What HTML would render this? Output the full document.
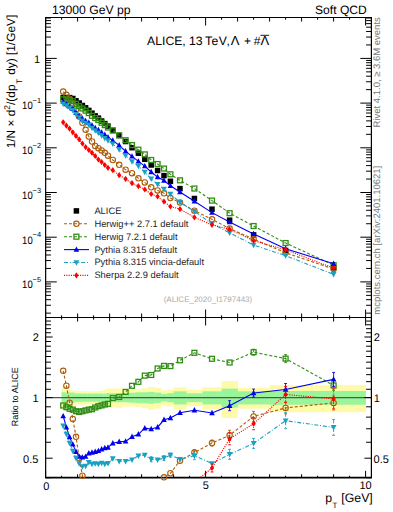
<!DOCTYPE html><html><head><meta charset="utf-8"><style>html,body{margin:0;padding:0;background:#fff;width:393px;height:512px;overflow:hidden}svg{position:absolute;left:0;top:0}text{font-family:"Liberation Sans",sans-serif;text-rendering:geometricPrecision}</style></head><body>
<svg width="393" height="512" viewBox="0 0 393 512">
<defs><clipPath id="cm"><rect x="45.65" y="17.5" width="325.75" height="300.0"/></clipPath>
<clipPath id="cr"><rect x="45.65" y="317.5" width="325.75" height="160.14999999999998"/></clipPath></defs>
<g clip-path="url(#cr)">
<rect x="61.6" y="386.9" width="3.5" height="22.89" fill="#fffaa8"/>
<rect x="64.8" y="389.5" width="3.5" height="17.03" fill="#fffaa8"/>
<rect x="68" y="389.5" width="3.5" height="17.03" fill="#fffaa8"/>
<rect x="71.2" y="390.1" width="3.5" height="15.7" fill="#fffaa8"/>
<rect x="74.4" y="391" width="3.5" height="13.74" fill="#fffaa8"/>
<rect x="77.6" y="391" width="3.5" height="13.74" fill="#fffaa8"/>
<rect x="80.8" y="391" width="3.5" height="13.74" fill="#fffaa8"/>
<rect x="84" y="391.2" width="3.5" height="13.31" fill="#fffaa8"/>
<rect x="87.2" y="391.2" width="3.5" height="13.31" fill="#fffaa8"/>
<rect x="90.4" y="391.2" width="3.5" height="13.31" fill="#fffaa8"/>
<rect x="93.6" y="391.1" width="3.5" height="13.52" fill="#fffaa8"/>
<rect x="96.8" y="391" width="3.5" height="13.74" fill="#fffaa8"/>
<rect x="100" y="390.6" width="3.5" height="14.61" fill="#fffaa8"/>
<rect x="103.2" y="389.6" width="3.5" height="16.81" fill="#fffaa8"/>
<rect x="106.4" y="388.4" width="3.5" height="19.48" fill="#fffaa8"/>
<rect x="109.6" y="388.7" width="6.7" height="18.81" fill="#fffaa8"/>
<rect x="116" y="388.4" width="6.7" height="19.48" fill="#fffaa8"/>
<rect x="122.4" y="389.6" width="6.7" height="16.81" fill="#fffaa8"/>
<rect x="128.8" y="389.6" width="6.7" height="16.81" fill="#fffaa8"/>
<rect x="135.2" y="389.1" width="6.7" height="17.92" fill="#fffaa8"/>
<rect x="141.6" y="388.3" width="6.7" height="19.71" fill="#fffaa8"/>
<rect x="148" y="386.9" width="6.7" height="22.89" fill="#fffaa8"/>
<rect x="154.4" y="387.8" width="6.7" height="20.84" fill="#fffaa8"/>
<rect x="160.8" y="390.5" width="6.7" height="14.83" fill="#fffaa8"/>
<rect x="167.2" y="389.6" width="6.7" height="16.81" fill="#fffaa8"/>
<rect x="173.6" y="387.2" width="13.1" height="22.21" fill="#fffaa8"/>
<rect x="186.4" y="389.8" width="16.3" height="16.36" fill="#fffaa8"/>
<rect x="202.4" y="387.2" width="19.5" height="22.21" fill="#fffaa8"/>
<rect x="221.6" y="381.1" width="16.3" height="36.86" fill="#fffaa8"/>
<rect x="237.6" y="387.8" width="32.3" height="20.84" fill="#fffaa8"/>
<rect x="269.6" y="385.1" width="32.3" height="27.09" fill="#fffaa8"/>
<rect x="301.6" y="385.1" width="64.3" height="27.09" fill="#fffaa8"/>
<rect x="61.6" y="392.2" width="3.5" height="11.16" fill="#9af59a"/>
<rect x="64.8" y="392.6" width="3.5" height="10.3" fill="#9af59a"/>
<rect x="68" y="392.6" width="3.5" height="10.3" fill="#9af59a"/>
<rect x="71.2" y="392.6" width="3.5" height="10.3" fill="#9af59a"/>
<rect x="74.4" y="393.6" width="3.5" height="8.19" fill="#9af59a"/>
<rect x="77.6" y="393.6" width="3.5" height="8.19" fill="#9af59a"/>
<rect x="80.8" y="393.6" width="3.5" height="8.19" fill="#9af59a"/>
<rect x="84" y="393.6" width="3.5" height="8.19" fill="#9af59a"/>
<rect x="87.2" y="393.6" width="3.5" height="8.19" fill="#9af59a"/>
<rect x="90.4" y="393.6" width="3.5" height="8.19" fill="#9af59a"/>
<rect x="93.6" y="393.6" width="3.5" height="8.19" fill="#9af59a"/>
<rect x="96.8" y="393.6" width="3.5" height="8.19" fill="#9af59a"/>
<rect x="100" y="393.6" width="3.5" height="8.19" fill="#9af59a"/>
<rect x="103.2" y="393.6" width="3.5" height="8.19" fill="#9af59a"/>
<rect x="106.4" y="393.1" width="3.5" height="9.24" fill="#9af59a"/>
<rect x="109.6" y="393.2" width="6.7" height="9.03" fill="#9af59a"/>
<rect x="116" y="393.2" width="6.7" height="9.03" fill="#9af59a"/>
<rect x="122.4" y="393.2" width="6.7" height="9.03" fill="#9af59a"/>
<rect x="128.8" y="392.8" width="6.7" height="9.88" fill="#9af59a"/>
<rect x="135.2" y="392.3" width="6.7" height="10.94" fill="#9af59a"/>
<rect x="141.6" y="392.3" width="6.7" height="10.94" fill="#9af59a"/>
<rect x="148" y="391.9" width="6.7" height="11.8" fill="#9af59a"/>
<rect x="154.4" y="392.6" width="6.7" height="10.3" fill="#9af59a"/>
<rect x="160.8" y="394" width="6.7" height="7.35" fill="#9af59a"/>
<rect x="167.2" y="393.2" width="6.7" height="9.03" fill="#9af59a"/>
<rect x="173.6" y="391.3" width="13.1" height="13.09" fill="#9af59a"/>
<rect x="186.4" y="393.3" width="16.3" height="8.82" fill="#9af59a"/>
<rect x="202.4" y="391.3" width="19.5" height="13.09" fill="#9af59a"/>
<rect x="221.6" y="388.6" width="16.3" height="19.03" fill="#9af59a"/>
<rect x="237.6" y="391.3" width="32.3" height="13.09" fill="#9af59a"/>
<rect x="269.6" y="391" width="32.3" height="13.74" fill="#9af59a"/>
<rect x="301.6" y="391" width="64.3" height="13.74" fill="#9af59a"/>
<line x1="45.65" y1="397.6" x2="371.4" y2="397.6" stroke="#505850" stroke-width="1.1"/>
</g>
<g stroke="#000" fill="none" stroke-width="1.2">
<path d="M45.65,477.65V17.5H371.4V477.65"/>
<line x1="45.05" y1="477.65" x2="372.0" y2="477.65" stroke-width="1.7"/>
<line x1="45.65" y1="317.5" x2="371.4" y2="317.5"/>
</g>
<path d="M45.6,17.5v8M45.6,317.5v-8M45.6,317.5v8M45.6,477.65v-6.8M61.6,17.5v2.2M61.6,317.5v-2.2M61.6,317.5v2.2M61.6,477.65v-1.87M77.6,17.5v4M77.6,317.5v-4M77.6,317.5v4M77.6,477.65v-3.4M93.6,17.5v2.2M93.6,317.5v-2.2M93.6,317.5v2.2M93.6,477.65v-1.87M109.6,17.5v4M109.6,317.5v-4M109.6,317.5v4M109.6,477.65v-3.4M125.6,17.5v2.2M125.6,317.5v-2.2M125.6,317.5v2.2M125.6,477.65v-1.87M141.6,17.5v4M141.6,317.5v-4M141.6,317.5v4M141.6,477.65v-3.4M157.6,17.5v2.2M157.6,317.5v-2.2M157.6,317.5v2.2M157.6,477.65v-1.87M173.6,17.5v4M173.6,317.5v-4M173.6,317.5v4M173.6,477.65v-3.4M189.6,17.5v2.2M189.6,317.5v-2.2M189.6,317.5v2.2M189.6,477.65v-1.87M205.6,17.5v8M205.6,317.5v-8M205.6,317.5v8M205.6,477.65v-6.8M221.6,17.5v2.2M221.6,317.5v-2.2M221.6,317.5v2.2M221.6,477.65v-1.87M237.6,17.5v4M237.6,317.5v-4M237.6,317.5v4M237.6,477.65v-3.4M253.6,17.5v2.2M253.6,317.5v-2.2M253.6,317.5v2.2M253.6,477.65v-1.87M269.6,17.5v4M269.6,317.5v-4M269.6,317.5v4M269.6,477.65v-3.4M285.6,17.5v2.2M285.6,317.5v-2.2M285.6,317.5v2.2M285.6,477.65v-1.87M301.6,17.5v4M301.6,317.5v-4M301.6,317.5v4M301.6,477.65v-3.4M317.6,17.5v2.2M317.6,317.5v-2.2M317.6,317.5v2.2M317.6,477.65v-1.87M333.6,17.5v4M333.6,317.5v-4M333.6,317.5v4M333.6,477.65v-3.4M349.6,17.5v2.2M349.6,317.5v-2.2M349.6,317.5v2.2M349.6,477.65v-1.87M365.6,17.5v8M365.6,317.5v-8M365.6,317.5v8M365.6,477.65v-6.8M45.65,58.4h11.1M371.4,58.4h-11.1M45.65,44.94h5.3M371.4,44.94h-5.3M45.65,37.07h5.3M371.4,37.07h-5.3M45.65,31.49h5.3M371.4,31.49h-5.3M45.65,27.16h5.3M371.4,27.16h-5.3M45.65,23.62h5.3M371.4,23.62h-5.3M45.65,20.62h5.3M371.4,20.62h-5.3M45.65,18.03h5.3M371.4,18.03h-5.3M45.65,103.1h11.1M371.4,103.1h-11.1M45.65,89.64h5.3M371.4,89.64h-5.3M45.65,81.77h5.3M371.4,81.77h-5.3M45.65,76.19h5.3M371.4,76.19h-5.3M45.65,71.86h5.3M371.4,71.86h-5.3M45.65,68.32h5.3M371.4,68.32h-5.3M45.65,65.32h5.3M371.4,65.32h-5.3M45.65,62.73h5.3M371.4,62.73h-5.3M45.65,60.45h5.3M371.4,60.45h-5.3M45.65,147.8h11.1M371.4,147.8h-11.1M45.65,134.34h5.3M371.4,134.34h-5.3M45.65,126.47h5.3M371.4,126.47h-5.3M45.65,120.89h5.3M371.4,120.89h-5.3M45.65,116.56h5.3M371.4,116.56h-5.3M45.65,113.02h5.3M371.4,113.02h-5.3M45.65,110.02h5.3M371.4,110.02h-5.3M45.65,107.43h5.3M371.4,107.43h-5.3M45.65,105.15h5.3M371.4,105.15h-5.3M45.65,192.5h11.1M371.4,192.5h-11.1M45.65,179.04h5.3M371.4,179.04h-5.3M45.65,171.17h5.3M371.4,171.17h-5.3M45.65,165.59h5.3M371.4,165.59h-5.3M45.65,161.26h5.3M371.4,161.26h-5.3M45.65,157.72h5.3M371.4,157.72h-5.3M45.65,154.72h5.3M371.4,154.72h-5.3M45.65,152.13h5.3M371.4,152.13h-5.3M45.65,149.85h5.3M371.4,149.85h-5.3M45.65,237.2h11.1M371.4,237.2h-11.1M45.65,223.74h5.3M371.4,223.74h-5.3M45.65,215.87h5.3M371.4,215.87h-5.3M45.65,210.29h5.3M371.4,210.29h-5.3M45.65,205.96h5.3M371.4,205.96h-5.3M45.65,202.42h5.3M371.4,202.42h-5.3M45.65,199.42h5.3M371.4,199.42h-5.3M45.65,196.83h5.3M371.4,196.83h-5.3M45.65,194.55h5.3M371.4,194.55h-5.3M45.65,281.9h11.1M371.4,281.9h-11.1M45.65,268.44h5.3M371.4,268.44h-5.3M45.65,260.57h5.3M371.4,260.57h-5.3M45.65,254.99h5.3M371.4,254.99h-5.3M45.65,250.66h5.3M371.4,250.66h-5.3M45.65,247.12h5.3M371.4,247.12h-5.3M45.65,244.12h5.3M371.4,244.12h-5.3M45.65,241.53h5.3M371.4,241.53h-5.3M45.65,239.25h5.3M371.4,239.25h-5.3M45.65,313.14h5.3M371.4,313.14h-5.3M45.65,305.27h5.3M371.4,305.27h-5.3M45.65,299.69h5.3M371.4,299.69h-5.3M45.65,295.36h5.3M371.4,295.36h-5.3M45.65,291.82h5.3M371.4,291.82h-5.3M45.65,288.82h5.3M371.4,288.82h-5.3M45.65,286.23h5.3M371.4,286.23h-5.3M45.65,283.95h5.3M371.4,283.95h-5.3M45.65,477.71h5.3M371.4,477.71h-5.3M45.65,458.2h7M371.4,458.2h-7M45.65,442.26h5.3M371.4,442.26h-5.3M45.65,428.78h5.3M371.4,428.78h-5.3M45.65,417.11h5.3M371.4,417.11h-5.3M45.65,406.81h5.3M371.4,406.81h-5.3M45.65,397.6h7M371.4,397.6h-7M45.65,389.27h5.3M371.4,389.27h-5.3M45.65,381.66h5.3M371.4,381.66h-5.3M45.65,374.66h5.3M371.4,374.66h-5.3M45.65,368.18h5.3M371.4,368.18h-5.3M45.65,362.15h5.3M371.4,362.15h-5.3M45.65,356.51h5.3M371.4,356.51h-5.3M45.65,351.21h5.3M371.4,351.21h-5.3M45.65,346.21h5.3M371.4,346.21h-5.3M45.65,341.49h5.3M371.4,341.49h-5.3M45.65,337h7M371.4,337h-7M45.65,332.74h5.3M371.4,332.74h-5.3M45.65,328.67h5.3M371.4,328.67h-5.3M45.65,324.78h5.3M371.4,324.78h-5.3M45.65,321.06h5.3M371.4,321.06h-5.3M45.65,317.49h5.3M371.4,317.49h-5.3" stroke="#000" stroke-width="1" fill="none"/>
<g clip-path="url(#cm)">
<rect x="60.45" y="94.75" width="5.5" height="5.5" fill="#000"/>
<rect x="63.65" y="94.75" width="5.5" height="5.5" fill="#000"/>
<rect x="66.85" y="94.85" width="5.5" height="5.5" fill="#000"/>
<rect x="70.05" y="95.75" width="5.5" height="5.5" fill="#000"/>
<rect x="73.25" y="98.05" width="5.5" height="5.5" fill="#000"/>
<rect x="76.45" y="100.25" width="5.5" height="5.5" fill="#000"/>
<rect x="79.65" y="102.75" width="5.5" height="5.5" fill="#000"/>
<rect x="82.85" y="105.05" width="5.5" height="5.5" fill="#000"/>
<rect x="86.05" y="107.65" width="5.5" height="5.5" fill="#000"/>
<rect x="89.25" y="110.45" width="5.5" height="5.5" fill="#000"/>
<rect x="92.45" y="113.15" width="5.5" height="5.5" fill="#000"/>
<rect x="95.65" y="115.35" width="5.5" height="5.5" fill="#000"/>
<rect x="98.85" y="118.25" width="5.5" height="5.5" fill="#000"/>
<rect x="102.05" y="120.85" width="5.5" height="5.5" fill="#000"/>
<rect x="105.25" y="123.35" width="5.5" height="5.5" fill="#000"/>
<rect x="110.05" y="127.65" width="5.5" height="5.5" fill="#000"/>
<rect x="116.45" y="132.75" width="5.5" height="5.5" fill="#000"/>
<rect x="122.85" y="138.75" width="5.5" height="5.5" fill="#000"/>
<rect x="129.25" y="144.95" width="5.5" height="5.5" fill="#000"/>
<rect x="135.65" y="150.45" width="5.5" height="5.5" fill="#000"/>
<rect x="142.05" y="156.55" width="5.5" height="5.5" fill="#000"/>
<rect x="148.45" y="162.25" width="5.5" height="5.5" fill="#000"/>
<rect x="154.85" y="167.75" width="5.5" height="5.5" fill="#000"/>
<rect x="161.25" y="172.85" width="5.5" height="5.5" fill="#000"/>
<rect x="167.65" y="178.55" width="5.5" height="5.5" fill="#000"/>
<rect x="177.25" y="185.85" width="5.5" height="5.5" fill="#000"/>
<rect x="191.65" y="195.75" width="5.5" height="5.5" fill="#000"/>
<rect x="209.25" y="206.45" width="5.5" height="5.5" fill="#000"/>
<rect x="226.85" y="217.45" width="5.5" height="5.5" fill="#000"/>
<rect x="250.85" y="232.15" width="5.5" height="5.5" fill="#000"/>
<rect x="282.85" y="247.75" width="5.5" height="5.5" fill="#000"/>
<rect x="330.85" y="265.05" width="5.5" height="5.5" fill="#000"/>
<polyline points="63.2,91.55 66.4,94.86 69.6,98.73 72.8,103.25 76,109.5 79.2,116.46 82.4,122.84 85.6,129.8 88.8,136.6 92,141.5 95.2,146 98.4,148.2 101.6,150.4 104.8,152.8 108,155.7 112.8,160 119.2,164.8 125.6,169.7 132,173.2 138.4,178.3 144.8,182.4 151.2,187.3 157.6,190.4 164,193.3 170.4,198.1 180,202.6 194.4,210.7 212,219.3 229.6,228.57 253.6,239.07 285.6,252.79 333.6,268.98" fill="none" stroke="#ac5c0a" stroke-width="1.1" stroke-dasharray="3,2"/>
<circle cx="63.2" cy="91.55" r="2.7" fill="none" stroke="#ac5c0a" stroke-width="1.1"/>
<circle cx="66.4" cy="94.86" r="2.7" fill="none" stroke="#ac5c0a" stroke-width="1.1"/>
<circle cx="69.6" cy="98.73" r="2.7" fill="none" stroke="#ac5c0a" stroke-width="1.1"/>
<circle cx="72.8" cy="103.25" r="2.7" fill="none" stroke="#ac5c0a" stroke-width="1.1"/>
<circle cx="76" cy="109.5" r="2.7" fill="none" stroke="#ac5c0a" stroke-width="1.1"/>
<circle cx="79.2" cy="116.46" r="2.7" fill="none" stroke="#ac5c0a" stroke-width="1.1"/>
<circle cx="82.4" cy="122.84" r="2.7" fill="none" stroke="#ac5c0a" stroke-width="1.1"/>
<circle cx="85.6" cy="129.8" r="2.7" fill="none" stroke="#ac5c0a" stroke-width="1.1"/>
<circle cx="88.8" cy="136.6" r="2.7" fill="none" stroke="#ac5c0a" stroke-width="1.1"/>
<circle cx="92" cy="141.5" r="2.7" fill="none" stroke="#ac5c0a" stroke-width="1.1"/>
<circle cx="95.2" cy="146" r="2.7" fill="none" stroke="#ac5c0a" stroke-width="1.1"/>
<circle cx="98.4" cy="148.2" r="2.7" fill="none" stroke="#ac5c0a" stroke-width="1.1"/>
<circle cx="101.6" cy="150.4" r="2.7" fill="none" stroke="#ac5c0a" stroke-width="1.1"/>
<circle cx="104.8" cy="152.8" r="2.7" fill="none" stroke="#ac5c0a" stroke-width="1.1"/>
<circle cx="108" cy="155.7" r="2.7" fill="none" stroke="#ac5c0a" stroke-width="1.1"/>
<circle cx="112.8" cy="160" r="2.7" fill="none" stroke="#ac5c0a" stroke-width="1.1"/>
<circle cx="119.2" cy="164.8" r="2.7" fill="none" stroke="#ac5c0a" stroke-width="1.1"/>
<circle cx="125.6" cy="169.7" r="2.7" fill="none" stroke="#ac5c0a" stroke-width="1.1"/>
<circle cx="132" cy="173.2" r="2.7" fill="none" stroke="#ac5c0a" stroke-width="1.1"/>
<circle cx="138.4" cy="178.3" r="2.7" fill="none" stroke="#ac5c0a" stroke-width="1.1"/>
<circle cx="144.8" cy="182.4" r="2.7" fill="none" stroke="#ac5c0a" stroke-width="1.1"/>
<circle cx="151.2" cy="187.3" r="2.7" fill="none" stroke="#ac5c0a" stroke-width="1.1"/>
<circle cx="157.6" cy="190.4" r="2.7" fill="none" stroke="#ac5c0a" stroke-width="1.1"/>
<circle cx="164" cy="193.3" r="2.7" fill="none" stroke="#ac5c0a" stroke-width="1.1"/>
<circle cx="170.4" cy="198.1" r="2.7" fill="none" stroke="#ac5c0a" stroke-width="1.1"/>
<circle cx="180" cy="202.6" r="2.7" fill="none" stroke="#ac5c0a" stroke-width="1.1"/>
<circle cx="194.4" cy="210.7" r="2.7" fill="none" stroke="#ac5c0a" stroke-width="1.1"/>
<circle cx="212" cy="219.3" r="2.7" fill="none" stroke="#ac5c0a" stroke-width="1.1"/>
<circle cx="229.6" cy="228.57" r="2.7" fill="none" stroke="#ac5c0a" stroke-width="1.1"/>
<circle cx="253.6" cy="239.07" r="2.7" fill="none" stroke="#ac5c0a" stroke-width="1.1"/>
<circle cx="285.6" cy="252.79" r="2.7" fill="none" stroke="#ac5c0a" stroke-width="1.1"/>
<circle cx="333.6" cy="268.98" r="2.7" fill="none" stroke="#ac5c0a" stroke-width="1.1"/>
<polyline points="63.2,99.25 66.4,99.63 69.6,100.09 72.8,101.16 76,103.82 79.2,106.2 82.4,108.52 85.6,110.64 88.8,113.06 92,115.78 95.2,118.1 98.4,120.01 101.6,122.73 104.8,125.13 108,127.48 112.8,130.49 119.2,135.37 125.6,140.23 132,145.08 138.4,149.69 144.8,154.41 151.2,159.98 157.6,164.04 164,168.56 170.4,174.31 180,180.32 194.4,188.55 212,200.58 229.6,213.21 253.6,226.02 285.6,243.04 333.6,265.09" fill="none" stroke="#2f8e12" stroke-width="1.1" stroke-dasharray="3,2"/>
<rect x="60.75" y="96.8" width="4.9" height="4.9" fill="none" stroke="#2f8e12" stroke-width="1.3"/>
<rect x="63.95" y="97.18" width="4.9" height="4.9" fill="none" stroke="#2f8e12" stroke-width="1.3"/>
<rect x="67.15" y="97.64" width="4.9" height="4.9" fill="none" stroke="#2f8e12" stroke-width="1.3"/>
<rect x="70.35" y="98.71" width="4.9" height="4.9" fill="none" stroke="#2f8e12" stroke-width="1.3"/>
<rect x="73.55" y="101.37" width="4.9" height="4.9" fill="none" stroke="#2f8e12" stroke-width="1.3"/>
<rect x="76.75" y="103.75" width="4.9" height="4.9" fill="none" stroke="#2f8e12" stroke-width="1.3"/>
<rect x="79.95" y="106.07" width="4.9" height="4.9" fill="none" stroke="#2f8e12" stroke-width="1.3"/>
<rect x="83.15" y="108.19" width="4.9" height="4.9" fill="none" stroke="#2f8e12" stroke-width="1.3"/>
<rect x="86.35" y="110.61" width="4.9" height="4.9" fill="none" stroke="#2f8e12" stroke-width="1.3"/>
<rect x="89.55" y="113.33" width="4.9" height="4.9" fill="none" stroke="#2f8e12" stroke-width="1.3"/>
<rect x="92.75" y="115.65" width="4.9" height="4.9" fill="none" stroke="#2f8e12" stroke-width="1.3"/>
<rect x="95.95" y="117.56" width="4.9" height="4.9" fill="none" stroke="#2f8e12" stroke-width="1.3"/>
<rect x="99.15" y="120.28" width="4.9" height="4.9" fill="none" stroke="#2f8e12" stroke-width="1.3"/>
<rect x="102.35" y="122.68" width="4.9" height="4.9" fill="none" stroke="#2f8e12" stroke-width="1.3"/>
<rect x="105.55" y="125.03" width="4.9" height="4.9" fill="none" stroke="#2f8e12" stroke-width="1.3"/>
<rect x="110.35" y="128.04" width="4.9" height="4.9" fill="none" stroke="#2f8e12" stroke-width="1.3"/>
<rect x="116.75" y="132.92" width="4.9" height="4.9" fill="none" stroke="#2f8e12" stroke-width="1.3"/>
<rect x="123.15" y="137.78" width="4.9" height="4.9" fill="none" stroke="#2f8e12" stroke-width="1.3"/>
<rect x="129.55" y="142.63" width="4.9" height="4.9" fill="none" stroke="#2f8e12" stroke-width="1.3"/>
<rect x="135.95" y="147.24" width="4.9" height="4.9" fill="none" stroke="#2f8e12" stroke-width="1.3"/>
<rect x="142.35" y="151.96" width="4.9" height="4.9" fill="none" stroke="#2f8e12" stroke-width="1.3"/>
<rect x="148.75" y="157.53" width="4.9" height="4.9" fill="none" stroke="#2f8e12" stroke-width="1.3"/>
<rect x="155.15" y="161.59" width="4.9" height="4.9" fill="none" stroke="#2f8e12" stroke-width="1.3"/>
<rect x="161.55" y="166.11" width="4.9" height="4.9" fill="none" stroke="#2f8e12" stroke-width="1.3"/>
<rect x="167.95" y="171.86" width="4.9" height="4.9" fill="none" stroke="#2f8e12" stroke-width="1.3"/>
<rect x="177.55" y="177.87" width="4.9" height="4.9" fill="none" stroke="#2f8e12" stroke-width="1.3"/>
<rect x="191.95" y="186.1" width="4.9" height="4.9" fill="none" stroke="#2f8e12" stroke-width="1.3"/>
<rect x="209.55" y="198.13" width="4.9" height="4.9" fill="none" stroke="#2f8e12" stroke-width="1.3"/>
<rect x="227.15" y="210.76" width="4.9" height="4.9" fill="none" stroke="#2f8e12" stroke-width="1.3"/>
<rect x="251.15" y="223.57" width="4.9" height="4.9" fill="none" stroke="#2f8e12" stroke-width="1.3"/>
<rect x="283.15" y="240.59" width="4.9" height="4.9" fill="none" stroke="#2f8e12" stroke-width="1.3"/>
<rect x="331.15" y="262.64" width="4.9" height="4.9" fill="none" stroke="#2f8e12" stroke-width="1.3"/>
<polyline points="63.2,101.61 66.4,104.12 69.6,106.37 72.8,108.89 76,112.81 79.2,116.1 82.4,118.78 85.6,120.9 88.8,122.77 92,125.39 95.2,127.91 98.4,129.94 101.6,132.48 104.8,134.79 108,137.18 112.8,140.53 119.2,145.31 125.6,151.23 132,156.4 138.4,161.35 144.8,166.09 151.2,171.97 157.6,177.07 164,180.53 170.4,185.83 180,191.98 194.4,201.32 212,212.62 229.6,222 253.6,233.9 285.6,248.7 333.6,263.76" fill="none" stroke="#0000f0" stroke-width="1.1"/>
<path d="M63.2,98.41L66,103.81L60.4,103.81Z" fill="#0000f0"/>
<path d="M66.4,100.92L69.2,106.32L63.6,106.32Z" fill="#0000f0"/>
<path d="M69.6,103.17L72.4,108.57L66.8,108.57Z" fill="#0000f0"/>
<path d="M72.8,105.69L75.6,111.09L70,111.09Z" fill="#0000f0"/>
<path d="M76,109.61L78.8,115.01L73.2,115.01Z" fill="#0000f0"/>
<path d="M79.2,112.9L82,118.3L76.4,118.3Z" fill="#0000f0"/>
<path d="M82.4,115.58L85.2,120.98L79.6,120.98Z" fill="#0000f0"/>
<path d="M85.6,117.7L88.4,123.1L82.8,123.1Z" fill="#0000f0"/>
<path d="M88.8,119.57L91.6,124.97L86,124.97Z" fill="#0000f0"/>
<path d="M92,122.19L94.8,127.59L89.2,127.59Z" fill="#0000f0"/>
<path d="M95.2,124.71L98,130.11L92.4,130.11Z" fill="#0000f0"/>
<path d="M98.4,126.74L101.2,132.14L95.6,132.14Z" fill="#0000f0"/>
<path d="M101.6,129.28L104.4,134.68L98.8,134.68Z" fill="#0000f0"/>
<path d="M104.8,131.59L107.6,136.99L102,136.99Z" fill="#0000f0"/>
<path d="M108,133.98L110.8,139.38L105.2,139.38Z" fill="#0000f0"/>
<path d="M112.8,137.33L115.6,142.73L110,142.73Z" fill="#0000f0"/>
<path d="M119.2,142.11L122,147.51L116.4,147.51Z" fill="#0000f0"/>
<path d="M125.6,148.03L128.4,153.43L122.8,153.43Z" fill="#0000f0"/>
<path d="M132,153.2L134.8,158.6L129.2,158.6Z" fill="#0000f0"/>
<path d="M138.4,158.15L141.2,163.55L135.6,163.55Z" fill="#0000f0"/>
<path d="M144.8,162.89L147.6,168.29L142,168.29Z" fill="#0000f0"/>
<path d="M151.2,168.77L154,174.17L148.4,174.17Z" fill="#0000f0"/>
<path d="M157.6,173.87L160.4,179.27L154.8,179.27Z" fill="#0000f0"/>
<path d="M164,177.33L166.8,182.73L161.2,182.73Z" fill="#0000f0"/>
<path d="M170.4,182.63L173.2,188.03L167.6,188.03Z" fill="#0000f0"/>
<path d="M180,188.78L182.8,194.18L177.2,194.18Z" fill="#0000f0"/>
<path d="M194.4,198.12L197.2,203.52L191.6,203.52Z" fill="#0000f0"/>
<path d="M212,209.42L214.8,214.82L209.2,214.82Z" fill="#0000f0"/>
<path d="M229.6,218.8L232.4,224.2L226.8,224.2Z" fill="#0000f0"/>
<path d="M253.6,230.7L256.4,236.1L250.8,236.1Z" fill="#0000f0"/>
<path d="M285.6,245.5L288.4,250.9L282.8,250.9Z" fill="#0000f0"/>
<path d="M333.6,260.56L336.4,265.96L330.8,265.96Z" fill="#0000f0"/>
<polyline points="63.2,103.76 66.4,105.58 69.6,107.68 72.8,110.36 76,114.21 79.2,117.63 82.4,120.8 85.6,122.99 88.8,124.77 92,127.94 95.2,130.53 98.4,132.84 101.6,135.52 104.8,138.34 108,140.67 112.8,143.92 119.2,149.62 125.6,155.62 132,161.51 138.4,166.1 144.8,172.07 151.2,178.68 157.6,184.31 164,189.03 170.4,194.07 180,202.28 194.4,211.4 212,223.83 229.6,232.79 253.6,245.07 285.6,255.63 333.6,274.42" fill="none" stroke="#1aa0c2" stroke-width="1.1" stroke-dasharray="4,1.8,1,1.8"/>
<path d="M63.2,106.96L66.1,101.46L60.3,101.46Z" fill="#1aa0c2"/>
<path d="M66.4,108.78L69.3,103.28L63.5,103.28Z" fill="#1aa0c2"/>
<path d="M69.6,110.88L72.5,105.38L66.7,105.38Z" fill="#1aa0c2"/>
<path d="M72.8,113.56L75.7,108.06L69.9,108.06Z" fill="#1aa0c2"/>
<path d="M76,117.41L78.9,111.91L73.1,111.91Z" fill="#1aa0c2"/>
<path d="M79.2,120.83L82.1,115.33L76.3,115.33Z" fill="#1aa0c2"/>
<path d="M82.4,124L85.3,118.5L79.5,118.5Z" fill="#1aa0c2"/>
<path d="M85.6,126.19L88.5,120.69L82.7,120.69Z" fill="#1aa0c2"/>
<path d="M88.8,127.97L91.7,122.47L85.9,122.47Z" fill="#1aa0c2"/>
<path d="M92,131.14L94.9,125.64L89.1,125.64Z" fill="#1aa0c2"/>
<path d="M95.2,133.73L98.1,128.23L92.3,128.23Z" fill="#1aa0c2"/>
<path d="M98.4,136.04L101.3,130.54L95.5,130.54Z" fill="#1aa0c2"/>
<path d="M101.6,138.72L104.5,133.22L98.7,133.22Z" fill="#1aa0c2"/>
<path d="M104.8,141.54L107.7,136.04L101.9,136.04Z" fill="#1aa0c2"/>
<path d="M108,143.87L110.9,138.37L105.1,138.37Z" fill="#1aa0c2"/>
<path d="M112.8,147.12L115.7,141.62L109.9,141.62Z" fill="#1aa0c2"/>
<path d="M119.2,152.82L122.1,147.32L116.3,147.32Z" fill="#1aa0c2"/>
<path d="M125.6,158.82L128.5,153.32L122.7,153.32Z" fill="#1aa0c2"/>
<path d="M132,164.71L134.9,159.21L129.1,159.21Z" fill="#1aa0c2"/>
<path d="M138.4,169.3L141.3,163.8L135.5,163.8Z" fill="#1aa0c2"/>
<path d="M144.8,175.27L147.7,169.77L141.9,169.77Z" fill="#1aa0c2"/>
<path d="M151.2,181.88L154.1,176.38L148.3,176.38Z" fill="#1aa0c2"/>
<path d="M157.6,187.51L160.5,182.01L154.7,182.01Z" fill="#1aa0c2"/>
<path d="M164,192.23L166.9,186.73L161.1,186.73Z" fill="#1aa0c2"/>
<path d="M170.4,197.27L173.3,191.77L167.5,191.77Z" fill="#1aa0c2"/>
<path d="M180,205.48L182.9,199.98L177.1,199.98Z" fill="#1aa0c2"/>
<path d="M194.4,214.6L197.3,209.1L191.5,209.1Z" fill="#1aa0c2"/>
<path d="M212,227.03L214.9,221.53L209.1,221.53Z" fill="#1aa0c2"/>
<path d="M229.6,235.99L232.5,230.49L226.7,230.49Z" fill="#1aa0c2"/>
<path d="M253.6,248.27L256.5,242.77L250.7,242.77Z" fill="#1aa0c2"/>
<path d="M285.6,258.83L288.5,253.33L282.7,253.33Z" fill="#1aa0c2"/>
<path d="M333.6,277.62L336.5,272.12L330.7,272.12Z" fill="#1aa0c2"/>
<polyline points="63.2,122.3 66.4,125.7 69.6,128.7 72.8,132.3 76,135.9 79.2,139.4 82.4,143.5 85.6,147.1 88.8,150 92,152.8 95.2,156 98.4,159.5 101.6,162 104.8,165 108,167.8 112.8,170.2 119.2,175.2 125.6,178.9 132,183.2 138.4,186.2 144.8,189.5 151.2,194 157.6,196.5 164,201.6 170.4,206.5 180,209.1 194.4,217.3 212,224.83 229.6,229.35 253.6,240.7 285.6,249.81 333.6,268.09" fill="none" stroke="#ff0000" stroke-width="1.1" stroke-dasharray="1.1,1.2"/>
<path d="M63.2,119.2L65.4,122.3L63.2,125.4L61,122.3Z" fill="#ff0000"/>
<path d="M66.4,122.6L68.6,125.7L66.4,128.8L64.2,125.7Z" fill="#ff0000"/>
<path d="M69.6,125.6L71.8,128.7L69.6,131.8L67.4,128.7Z" fill="#ff0000"/>
<path d="M72.8,129.2L75,132.3L72.8,135.4L70.6,132.3Z" fill="#ff0000"/>
<path d="M76,132.8L78.2,135.9L76,139L73.8,135.9Z" fill="#ff0000"/>
<path d="M79.2,136.3L81.4,139.4L79.2,142.5L77,139.4Z" fill="#ff0000"/>
<path d="M82.4,140.4L84.6,143.5L82.4,146.6L80.2,143.5Z" fill="#ff0000"/>
<path d="M85.6,144L87.8,147.1L85.6,150.2L83.4,147.1Z" fill="#ff0000"/>
<path d="M88.8,146.9L91,150L88.8,153.1L86.6,150Z" fill="#ff0000"/>
<path d="M92,149.7L94.2,152.8L92,155.9L89.8,152.8Z" fill="#ff0000"/>
<path d="M95.2,152.9L97.4,156L95.2,159.1L93,156Z" fill="#ff0000"/>
<path d="M98.4,156.4L100.6,159.5L98.4,162.6L96.2,159.5Z" fill="#ff0000"/>
<path d="M101.6,158.9L103.8,162L101.6,165.1L99.4,162Z" fill="#ff0000"/>
<path d="M104.8,161.9L107,165L104.8,168.1L102.6,165Z" fill="#ff0000"/>
<path d="M108,164.7L110.2,167.8L108,170.9L105.8,167.8Z" fill="#ff0000"/>
<path d="M112.8,167.1L115,170.2L112.8,173.3L110.6,170.2Z" fill="#ff0000"/>
<path d="M119.2,172.1L121.4,175.2L119.2,178.3L117,175.2Z" fill="#ff0000"/>
<path d="M125.6,175.8L127.8,178.9L125.6,182L123.4,178.9Z" fill="#ff0000"/>
<path d="M132,180.1L134.2,183.2L132,186.3L129.8,183.2Z" fill="#ff0000"/>
<path d="M138.4,183.1L140.6,186.2L138.4,189.3L136.2,186.2Z" fill="#ff0000"/>
<path d="M144.8,186.4L147,189.5L144.8,192.6L142.6,189.5Z" fill="#ff0000"/>
<path d="M151.2,190.9L153.4,194L151.2,197.1L149,194Z" fill="#ff0000"/>
<path d="M157.6,193.4L159.8,196.5L157.6,199.6L155.4,196.5Z" fill="#ff0000"/>
<path d="M164,198.5L166.2,201.6L164,204.7L161.8,201.6Z" fill="#ff0000"/>
<path d="M170.4,203.4L172.6,206.5L170.4,209.6L168.2,206.5Z" fill="#ff0000"/>
<path d="M180,206L182.2,209.1L180,212.2L177.8,209.1Z" fill="#ff0000"/>
<path d="M194.4,214.2L196.6,217.3L194.4,220.4L192.2,217.3Z" fill="#ff0000"/>
<path d="M212,221.73L214.2,224.83L212,227.93L209.8,224.83Z" fill="#ff0000"/>
<path d="M229.6,226.25L231.8,229.35L229.6,232.45L227.4,229.35Z" fill="#ff0000"/>
<path d="M253.6,237.6L255.8,240.7L253.6,243.8L251.4,240.7Z" fill="#ff0000"/>
<path d="M285.6,246.71L287.8,249.81L285.6,252.91L283.4,249.81Z" fill="#ff0000"/>
<path d="M333.6,264.99L335.8,268.09L333.6,271.19L331.4,268.09Z" fill="#ff0000"/>
</g>
<g clip-path="url(#cr)">
<polyline points="63.2,370.8 66.4,385.7 69.6,402.7 72.8,419 76,436.8 79.2,458.2 82.4,475.7 85.6,496.67 88.8,515.59 92,525.04 95.2,533.15 98.4,533.15 101.6,530 104.8,529.1 108,530.9 112.8,530.9 119.2,529.55 125.6,524.59 132,512.44 138.4,510.63 144.8,501.63 151.2,498.02 157.6,487.22 164,477.31 170.4,473.26 180,460.65 194.4,452.54 212,443.08 229.6,435.3 253.6,416.4 285.6,407.9 333.6,402.9" fill="none" stroke="#ac5c0a" stroke-width="1.1" stroke-dasharray="3,2"/>
<path d="M194.4,449.54v6" stroke-dasharray="3,2" stroke="#ac5c0a" stroke-width="0.9" fill="none"/>
<path d="M193,449.54h2.8M193,455.54h2.8" stroke="#ac5c0a" stroke-width="0.9" fill="none"/>
<path d="M212,440.08v6" stroke-dasharray="3,2" stroke="#ac5c0a" stroke-width="0.9" fill="none"/>
<path d="M210.6,440.08h2.8M210.6,446.08h2.8" stroke="#ac5c0a" stroke-width="0.9" fill="none"/>
<path d="M229.6,430.3v10" stroke-dasharray="3,2" stroke="#ac5c0a" stroke-width="0.9" fill="none"/>
<path d="M228.2,430.3h2.8M228.2,440.3h2.8" stroke="#ac5c0a" stroke-width="0.9" fill="none"/>
<path d="M253.6,411.4v10" stroke-dasharray="3,2" stroke="#ac5c0a" stroke-width="0.9" fill="none"/>
<path d="M252.2,411.4h2.8M252.2,421.4h2.8" stroke="#ac5c0a" stroke-width="0.9" fill="none"/>
<path d="M285.6,401.9v12" stroke-dasharray="3,2" stroke="#ac5c0a" stroke-width="0.9" fill="none"/>
<path d="M284.2,401.9h2.8M284.2,413.9h2.8" stroke="#ac5c0a" stroke-width="0.9" fill="none"/>
<path d="M333.6,395.9v14" stroke-dasharray="3,2" stroke="#ac5c0a" stroke-width="0.9" fill="none"/>
<path d="M332.2,395.9h2.8M332.2,409.9h2.8" stroke="#ac5c0a" stroke-width="0.9" fill="none"/>
</g>
<circle cx="63.2" cy="370.8" r="2.7" fill="none" stroke="#ac5c0a" stroke-width="1.1"/>
<circle cx="66.4" cy="385.7" r="2.7" fill="none" stroke="#ac5c0a" stroke-width="1.1"/>
<circle cx="69.6" cy="402.7" r="2.7" fill="none" stroke="#ac5c0a" stroke-width="1.1"/>
<circle cx="72.8" cy="419" r="2.7" fill="none" stroke="#ac5c0a" stroke-width="1.1"/>
<circle cx="76" cy="436.8" r="2.7" fill="none" stroke="#ac5c0a" stroke-width="1.1"/>
<circle cx="79.2" cy="458.2" r="2.7" fill="none" stroke="#ac5c0a" stroke-width="1.1"/>
<circle cx="82.4" cy="475.7" r="2.7" fill="none" stroke="#ac5c0a" stroke-width="1.1"/>
<circle cx="164" cy="477.31" r="2.7" fill="none" stroke="#ac5c0a" stroke-width="1.1"/>
<circle cx="170.4" cy="473.26" r="2.7" fill="none" stroke="#ac5c0a" stroke-width="1.1"/>
<circle cx="180" cy="460.65" r="2.7" fill="none" stroke="#ac5c0a" stroke-width="1.1"/>
<circle cx="194.4" cy="452.54" r="2.7" fill="none" stroke="#ac5c0a" stroke-width="1.1"/>
<circle cx="212" cy="443.08" r="2.7" fill="none" stroke="#ac5c0a" stroke-width="1.1"/>
<circle cx="229.6" cy="435.3" r="2.7" fill="none" stroke="#ac5c0a" stroke-width="1.1"/>
<circle cx="253.6" cy="416.4" r="2.7" fill="none" stroke="#ac5c0a" stroke-width="1.1"/>
<circle cx="285.6" cy="407.9" r="2.7" fill="none" stroke="#ac5c0a" stroke-width="1.1"/>
<circle cx="333.6" cy="402.9" r="2.7" fill="none" stroke="#ac5c0a" stroke-width="1.1"/>
<g clip-path="url(#cr)">
<polyline points="63.2,405.5 66.4,407.2 69.6,408.8 72.8,409.6 76,411.2 79.2,412 82.4,411.2 85.6,410.4 88.8,409.6 92,409.2 95.2,407.5 98.4,406.2 101.6,405.4 104.8,404.5 108,403.8 112.8,398 119.2,397 125.6,391.9 132,385.8 138.4,381.8 144.8,375.6 151.2,375 157.6,368.5 164,365.9 170.4,366.1 180,360.3 194.4,352.8 212,358.8 229.6,362.5 253.6,352.2 285.6,358.6 333.6,385.4" fill="none" stroke="#2f8e12" stroke-width="1.1" stroke-dasharray="3,2"/>
<path d="M253.6,349.2v6" stroke-dasharray="3,2" stroke="#2f8e12" stroke-width="0.9" fill="none"/>
<path d="M252.2,349.2h2.8M252.2,355.2h2.8" stroke="#2f8e12" stroke-width="0.9" fill="none"/>
<path d="M285.6,354.6v8" stroke-dasharray="3,2" stroke="#2f8e12" stroke-width="0.9" fill="none"/>
<path d="M284.2,354.6h2.8M284.2,362.6h2.8" stroke="#2f8e12" stroke-width="0.9" fill="none"/>
<path d="M333.6,380.4v10" stroke-dasharray="3,2" stroke="#2f8e12" stroke-width="0.9" fill="none"/>
<path d="M332.2,380.4h2.8M332.2,390.4h2.8" stroke="#2f8e12" stroke-width="0.9" fill="none"/>
</g>
<rect x="60.75" y="403.05" width="4.9" height="4.9" fill="none" stroke="#2f8e12" stroke-width="1.3"/>
<rect x="63.95" y="404.75" width="4.9" height="4.9" fill="none" stroke="#2f8e12" stroke-width="1.3"/>
<rect x="67.15" y="406.35" width="4.9" height="4.9" fill="none" stroke="#2f8e12" stroke-width="1.3"/>
<rect x="70.35" y="407.15" width="4.9" height="4.9" fill="none" stroke="#2f8e12" stroke-width="1.3"/>
<rect x="73.55" y="408.75" width="4.9" height="4.9" fill="none" stroke="#2f8e12" stroke-width="1.3"/>
<rect x="76.75" y="409.55" width="4.9" height="4.9" fill="none" stroke="#2f8e12" stroke-width="1.3"/>
<rect x="79.95" y="408.75" width="4.9" height="4.9" fill="none" stroke="#2f8e12" stroke-width="1.3"/>
<rect x="83.15" y="407.95" width="4.9" height="4.9" fill="none" stroke="#2f8e12" stroke-width="1.3"/>
<rect x="86.35" y="407.15" width="4.9" height="4.9" fill="none" stroke="#2f8e12" stroke-width="1.3"/>
<rect x="89.55" y="406.75" width="4.9" height="4.9" fill="none" stroke="#2f8e12" stroke-width="1.3"/>
<rect x="92.75" y="405.05" width="4.9" height="4.9" fill="none" stroke="#2f8e12" stroke-width="1.3"/>
<rect x="95.95" y="403.75" width="4.9" height="4.9" fill="none" stroke="#2f8e12" stroke-width="1.3"/>
<rect x="99.15" y="402.95" width="4.9" height="4.9" fill="none" stroke="#2f8e12" stroke-width="1.3"/>
<rect x="102.35" y="402.05" width="4.9" height="4.9" fill="none" stroke="#2f8e12" stroke-width="1.3"/>
<rect x="105.55" y="401.35" width="4.9" height="4.9" fill="none" stroke="#2f8e12" stroke-width="1.3"/>
<rect x="110.35" y="395.55" width="4.9" height="4.9" fill="none" stroke="#2f8e12" stroke-width="1.3"/>
<rect x="116.75" y="394.55" width="4.9" height="4.9" fill="none" stroke="#2f8e12" stroke-width="1.3"/>
<rect x="123.15" y="389.45" width="4.9" height="4.9" fill="none" stroke="#2f8e12" stroke-width="1.3"/>
<rect x="129.55" y="383.35" width="4.9" height="4.9" fill="none" stroke="#2f8e12" stroke-width="1.3"/>
<rect x="135.95" y="379.35" width="4.9" height="4.9" fill="none" stroke="#2f8e12" stroke-width="1.3"/>
<rect x="142.35" y="373.15" width="4.9" height="4.9" fill="none" stroke="#2f8e12" stroke-width="1.3"/>
<rect x="148.75" y="372.55" width="4.9" height="4.9" fill="none" stroke="#2f8e12" stroke-width="1.3"/>
<rect x="155.15" y="366.05" width="4.9" height="4.9" fill="none" stroke="#2f8e12" stroke-width="1.3"/>
<rect x="161.55" y="363.45" width="4.9" height="4.9" fill="none" stroke="#2f8e12" stroke-width="1.3"/>
<rect x="167.95" y="363.65" width="4.9" height="4.9" fill="none" stroke="#2f8e12" stroke-width="1.3"/>
<rect x="177.55" y="357.85" width="4.9" height="4.9" fill="none" stroke="#2f8e12" stroke-width="1.3"/>
<rect x="191.95" y="350.35" width="4.9" height="4.9" fill="none" stroke="#2f8e12" stroke-width="1.3"/>
<rect x="209.55" y="356.35" width="4.9" height="4.9" fill="none" stroke="#2f8e12" stroke-width="1.3"/>
<rect x="227.15" y="360.05" width="4.9" height="4.9" fill="none" stroke="#2f8e12" stroke-width="1.3"/>
<rect x="251.15" y="349.75" width="4.9" height="4.9" fill="none" stroke="#2f8e12" stroke-width="1.3"/>
<rect x="283.15" y="356.15" width="4.9" height="4.9" fill="none" stroke="#2f8e12" stroke-width="1.3"/>
<rect x="331.15" y="382.95" width="4.9" height="4.9" fill="none" stroke="#2f8e12" stroke-width="1.3"/>
<g clip-path="url(#cr)">
<polyline points="63.2,416.1 66.4,427.4 69.6,437.1 72.8,444.4 76,451.7 79.2,456.6 82.4,457.4 85.6,456.6 88.8,453.3 92,452.5 95.2,451.7 98.4,450.9 101.6,449.3 104.8,448 108,447.5 112.8,443.2 119.2,441.8 125.6,441.4 132,436.8 138.4,434.3 144.8,428.2 151.2,429 157.6,427.2 164,419.8 170.4,418 180,412.8 194.4,410.3 212,413 229.6,405.7 253.6,393.1 285.6,389.5 333.6,379.4" fill="none" stroke="#0000f0" stroke-width="1.1"/>
<path d="M229.6,400.7v10" stroke="#0000f0" stroke-width="0.9" fill="none"/>
<path d="M228.2,400.7h2.8M228.2,410.7h2.8" stroke="#0000f0" stroke-width="0.9" fill="none"/>
<path d="M253.6,389.1v8" stroke="#0000f0" stroke-width="0.9" fill="none"/>
<path d="M252.2,389.1h2.8M252.2,397.1h2.8" stroke="#0000f0" stroke-width="0.9" fill="none"/>
<path d="M285.6,383.5v12" stroke="#0000f0" stroke-width="0.9" fill="none"/>
<path d="M284.2,383.5h2.8M284.2,395.5h2.8" stroke="#0000f0" stroke-width="0.9" fill="none"/>
<path d="M333.6,372.4v14" stroke="#0000f0" stroke-width="0.9" fill="none"/>
<path d="M332.2,372.4h2.8M332.2,386.4h2.8" stroke="#0000f0" stroke-width="0.9" fill="none"/>
</g>
<path d="M63.2,412.9L66,418.3L60.4,418.3Z" fill="#0000f0"/>
<path d="M66.4,424.2L69.2,429.6L63.6,429.6Z" fill="#0000f0"/>
<path d="M69.6,433.9L72.4,439.3L66.8,439.3Z" fill="#0000f0"/>
<path d="M72.8,441.2L75.6,446.6L70,446.6Z" fill="#0000f0"/>
<path d="M76,448.5L78.8,453.9L73.2,453.9Z" fill="#0000f0"/>
<path d="M79.2,453.4L82,458.8L76.4,458.8Z" fill="#0000f0"/>
<path d="M82.4,454.2L85.2,459.6L79.6,459.6Z" fill="#0000f0"/>
<path d="M85.6,453.4L88.4,458.8L82.8,458.8Z" fill="#0000f0"/>
<path d="M88.8,450.1L91.6,455.5L86,455.5Z" fill="#0000f0"/>
<path d="M92,449.3L94.8,454.7L89.2,454.7Z" fill="#0000f0"/>
<path d="M95.2,448.5L98,453.9L92.4,453.9Z" fill="#0000f0"/>
<path d="M98.4,447.7L101.2,453.1L95.6,453.1Z" fill="#0000f0"/>
<path d="M101.6,446.1L104.4,451.5L98.8,451.5Z" fill="#0000f0"/>
<path d="M104.8,444.8L107.6,450.2L102,450.2Z" fill="#0000f0"/>
<path d="M108,444.3L110.8,449.7L105.2,449.7Z" fill="#0000f0"/>
<path d="M112.8,440L115.6,445.4L110,445.4Z" fill="#0000f0"/>
<path d="M119.2,438.6L122,444L116.4,444Z" fill="#0000f0"/>
<path d="M125.6,438.2L128.4,443.6L122.8,443.6Z" fill="#0000f0"/>
<path d="M132,433.6L134.8,439L129.2,439Z" fill="#0000f0"/>
<path d="M138.4,431.1L141.2,436.5L135.6,436.5Z" fill="#0000f0"/>
<path d="M144.8,425L147.6,430.4L142,430.4Z" fill="#0000f0"/>
<path d="M151.2,425.8L154,431.2L148.4,431.2Z" fill="#0000f0"/>
<path d="M157.6,424L160.4,429.4L154.8,429.4Z" fill="#0000f0"/>
<path d="M164,416.6L166.8,422L161.2,422Z" fill="#0000f0"/>
<path d="M170.4,414.8L173.2,420.2L167.6,420.2Z" fill="#0000f0"/>
<path d="M180,409.6L182.8,415L177.2,415Z" fill="#0000f0"/>
<path d="M194.4,407.1L197.2,412.5L191.6,412.5Z" fill="#0000f0"/>
<path d="M212,409.8L214.8,415.2L209.2,415.2Z" fill="#0000f0"/>
<path d="M229.6,402.5L232.4,407.9L226.8,407.9Z" fill="#0000f0"/>
<path d="M253.6,389.9L256.4,395.3L250.8,395.3Z" fill="#0000f0"/>
<path d="M285.6,386.3L288.4,391.7L282.8,391.7Z" fill="#0000f0"/>
<path d="M333.6,376.2L336.4,381.6L330.8,381.6Z" fill="#0000f0"/>
<g clip-path="url(#cr)">
<polyline points="63.2,425.8 66.4,434 69.6,443 72.8,451 76,458 79.2,463.5 82.4,466.5 85.6,466 88.8,462.3 92,464 95.2,463.5 98.4,464 101.6,463 104.8,464 108,463.2 112.8,458.5 119.2,461.2 125.6,461.2 132,459.8 138.4,455.7 144.8,455.1 151.2,459.2 157.6,459.8 164,458.1 170.4,455.1 180,459.2 194.4,455.7 212,463.5 229.6,454.3 253.6,443.4 285.6,420.7 333.6,427.4" fill="none" stroke="#1aa0c2" stroke-width="1.1" stroke-dasharray="4,1.8,1,1.8"/>
<path d="M151.2,456.7v5.0" stroke-dasharray="4,1.8,1,1.8" stroke="#1aa0c2" stroke-width="0.9" fill="none"/>
<path d="M149.8,456.7h2.8M149.8,461.7h2.8" stroke="#1aa0c2" stroke-width="0.9" fill="none"/>
<path d="M164,455.6v5.0" stroke-dasharray="4,1.8,1,1.8" stroke="#1aa0c2" stroke-width="0.9" fill="none"/>
<path d="M162.6,455.6h2.8M162.6,460.6h2.8" stroke="#1aa0c2" stroke-width="0.9" fill="none"/>
<path d="M170.4,453.1v4" stroke-dasharray="4,1.8,1,1.8" stroke="#1aa0c2" stroke-width="0.9" fill="none"/>
<path d="M169,453.1h2.8M169,457.1h2.8" stroke="#1aa0c2" stroke-width="0.9" fill="none"/>
<path d="M194.4,451.7v8" stroke-dasharray="4,1.8,1,1.8" stroke="#1aa0c2" stroke-width="0.9" fill="none"/>
<path d="M193,451.7h2.8M193,459.7h2.8" stroke="#1aa0c2" stroke-width="0.9" fill="none"/>
<path d="M229.6,449.3v10" stroke-dasharray="4,1.8,1,1.8" stroke="#1aa0c2" stroke-width="0.9" fill="none"/>
<path d="M228.2,449.3h2.8M228.2,459.3h2.8" stroke="#1aa0c2" stroke-width="0.9" fill="none"/>
<path d="M253.6,438.4v10" stroke-dasharray="4,1.8,1,1.8" stroke="#1aa0c2" stroke-width="0.9" fill="none"/>
<path d="M252.2,438.4h2.8M252.2,448.4h2.8" stroke="#1aa0c2" stroke-width="0.9" fill="none"/>
<path d="M285.6,412.7v16" stroke-dasharray="4,1.8,1,1.8" stroke="#1aa0c2" stroke-width="0.9" fill="none"/>
<path d="M284.2,412.7h2.8M284.2,428.7h2.8" stroke="#1aa0c2" stroke-width="0.9" fill="none"/>
<path d="M333.6,419.4v16" stroke-dasharray="4,1.8,1,1.8" stroke="#1aa0c2" stroke-width="0.9" fill="none"/>
<path d="M332.2,419.4h2.8M332.2,435.4h2.8" stroke="#1aa0c2" stroke-width="0.9" fill="none"/>
</g>
<path d="M63.2,429L66.1,423.5L60.3,423.5Z" fill="#1aa0c2"/>
<path d="M66.4,437.2L69.3,431.7L63.5,431.7Z" fill="#1aa0c2"/>
<path d="M69.6,446.2L72.5,440.7L66.7,440.7Z" fill="#1aa0c2"/>
<path d="M72.8,454.2L75.7,448.7L69.9,448.7Z" fill="#1aa0c2"/>
<path d="M76,461.2L78.9,455.7L73.1,455.7Z" fill="#1aa0c2"/>
<path d="M79.2,466.7L82.1,461.2L76.3,461.2Z" fill="#1aa0c2"/>
<path d="M82.4,469.7L85.3,464.2L79.5,464.2Z" fill="#1aa0c2"/>
<path d="M85.6,469.2L88.5,463.7L82.7,463.7Z" fill="#1aa0c2"/>
<path d="M88.8,465.5L91.7,460L85.9,460Z" fill="#1aa0c2"/>
<path d="M92,467.2L94.9,461.7L89.1,461.7Z" fill="#1aa0c2"/>
<path d="M95.2,466.7L98.1,461.2L92.3,461.2Z" fill="#1aa0c2"/>
<path d="M98.4,467.2L101.3,461.7L95.5,461.7Z" fill="#1aa0c2"/>
<path d="M101.6,466.2L104.5,460.7L98.7,460.7Z" fill="#1aa0c2"/>
<path d="M104.8,467.2L107.7,461.7L101.9,461.7Z" fill="#1aa0c2"/>
<path d="M108,466.4L110.9,460.9L105.1,460.9Z" fill="#1aa0c2"/>
<path d="M112.8,461.7L115.7,456.2L109.9,456.2Z" fill="#1aa0c2"/>
<path d="M119.2,464.4L122.1,458.9L116.3,458.9Z" fill="#1aa0c2"/>
<path d="M125.6,464.4L128.5,458.9L122.7,458.9Z" fill="#1aa0c2"/>
<path d="M132,463L134.9,457.5L129.1,457.5Z" fill="#1aa0c2"/>
<path d="M138.4,458.9L141.3,453.4L135.5,453.4Z" fill="#1aa0c2"/>
<path d="M144.8,458.3L147.7,452.8L141.9,452.8Z" fill="#1aa0c2"/>
<path d="M151.2,462.4L154.1,456.9L148.3,456.9Z" fill="#1aa0c2"/>
<path d="M157.6,463L160.5,457.5L154.7,457.5Z" fill="#1aa0c2"/>
<path d="M164,461.3L166.9,455.8L161.1,455.8Z" fill="#1aa0c2"/>
<path d="M170.4,458.3L173.3,452.8L167.5,452.8Z" fill="#1aa0c2"/>
<path d="M180,462.4L182.9,456.9L177.1,456.9Z" fill="#1aa0c2"/>
<path d="M194.4,458.9L197.3,453.4L191.5,453.4Z" fill="#1aa0c2"/>
<path d="M212,466.7L214.9,461.2L209.1,461.2Z" fill="#1aa0c2"/>
<path d="M229.6,457.5L232.5,452L226.7,452Z" fill="#1aa0c2"/>
<path d="M253.6,446.6L256.5,441.1L250.7,441.1Z" fill="#1aa0c2"/>
<path d="M285.6,423.9L288.5,418.4L282.7,418.4Z" fill="#1aa0c2"/>
<path d="M333.6,430.6L336.5,425.1L330.7,425.1Z" fill="#1aa0c2"/>
<g clip-path="url(#cr)">
<polyline points="63.2,509.28 66.4,524.59 69.6,537.65 72.8,549.81 76,555.67 79.2,561.52 82.4,568.73 85.6,574.58 88.8,575.93 92,575.93 95.2,578.18 98.4,584.04 101.6,582.24 104.8,584.04 108,585.39 112.8,576.83 119.2,576.38 125.6,566.03 132,557.47 138.4,546.21 144.8,533.6 151.2,528.2 157.6,514.69 164,514.69 170.4,511.08 180,489.92 194.4,482.26 212,468 229.6,438.8 253.6,423.7 285.6,394.5 333.6,398.9" fill="none" stroke="#ff0000" stroke-width="1.1" stroke-dasharray="1.1,1.2"/>
<path d="M212,464v8" stroke-dasharray="1.1,1.2" stroke="#ff0000" stroke-width="0.9" fill="none"/>
<path d="M210.6,464h2.8M210.6,472h2.8" stroke="#ff0000" stroke-width="0.9" fill="none"/>
<path d="M229.6,432.8v12" stroke-dasharray="1.1,1.2" stroke="#ff0000" stroke-width="0.9" fill="none"/>
<path d="M228.2,432.8h2.8M228.2,444.8h2.8" stroke="#ff0000" stroke-width="0.9" fill="none"/>
<path d="M253.6,417.7v12" stroke-dasharray="1.1,1.2" stroke="#ff0000" stroke-width="0.9" fill="none"/>
<path d="M252.2,417.7h2.8M252.2,429.7h2.8" stroke="#ff0000" stroke-width="0.9" fill="none"/>
<path d="M285.6,386.5v16" stroke-dasharray="1.1,1.2" stroke="#ff0000" stroke-width="0.9" fill="none"/>
<path d="M284.2,386.5h2.8M284.2,402.5h2.8" stroke="#ff0000" stroke-width="0.9" fill="none"/>
<path d="M333.6,388.9v20" stroke-dasharray="1.1,1.2" stroke="#ff0000" stroke-width="0.9" fill="none"/>
<path d="M332.2,388.9h2.8M332.2,408.9h2.8" stroke="#ff0000" stroke-width="0.9" fill="none"/>
</g>
<path d="M212,464.9L214.2,468L212,471.1L209.8,468Z" fill="#ff0000"/>
<path d="M229.6,435.7L231.8,438.8L229.6,441.9L227.4,438.8Z" fill="#ff0000"/>
<path d="M253.6,420.6L255.8,423.7L253.6,426.8L251.4,423.7Z" fill="#ff0000"/>
<path d="M285.6,391.4L287.8,394.5L285.6,397.6L283.4,394.5Z" fill="#ff0000"/>
<path d="M333.6,395.8L335.8,398.9L333.6,402L331.4,398.9Z" fill="#ff0000"/>
<rect x="73.65" y="208.15" width="5.5" height="5.5" fill="#000"/>
<text x="94.4" y="213.8" font-size="9.35" fill="#262626">ALICE</text>
<line x1="64" y1="223.8" x2="89" y2="223.8" stroke="#ac5c0a" stroke-width="1.1" stroke-dasharray="3,2"/>
<circle cx="76.4" cy="223.8" r="2.7" fill="none" stroke="#ac5c0a" stroke-width="1.1"/>
<text x="94.4" y="226.7" font-size="9.35" fill="#262626">Herwig++ 2.7.1 default</text>
<line x1="64" y1="236.7" x2="89" y2="236.7" stroke="#2f8e12" stroke-width="1.1" stroke-dasharray="3,2"/>
<rect x="73.95" y="234.25" width="4.9" height="4.9" fill="none" stroke="#2f8e12" stroke-width="1.3"/>
<text x="94.4" y="239.6" font-size="9.35" fill="#262626">Herwig 7.2.1 default</text>
<line x1="64" y1="249.6" x2="89" y2="249.6" stroke="#0000f0" stroke-width="1.1"/>
<path d="M76.4,246.4L79.2,251.8L73.6,251.8Z" fill="#0000f0"/>
<text x="94.4" y="252.5" font-size="9.35" fill="#262626">Pythia 8.315 default</text>
<line x1="64" y1="262.5" x2="89" y2="262.5" stroke="#1aa0c2" stroke-width="1.1" stroke-dasharray="4,1.8,1,1.8"/>
<path d="M76.4,265.7L79.3,260.2L73.5,260.2Z" fill="#1aa0c2"/>
<text x="94.4" y="265.4" font-size="9.35" fill="#262626">Pythia 8.315 vincia-default</text>
<line x1="64" y1="275.4" x2="89" y2="275.4" stroke="#ff0000" stroke-width="1.1" stroke-dasharray="1.1,1.2"/>
<path d="M76.4,272.3L78.6,275.4L76.4,278.5L74.2,275.4Z" fill="#ff0000"/>
<text x="94.4" y="278.3" font-size="9.35" fill="#262626">Sherpa 2.2.9 default</text>
<text x="52" y="14.2" font-size="12.2">13000 GeV pp</text>
<text x="366.8" y="14.2" font-size="12.1" text-anchor="end">Soft QCD</text>
<text x="147.1" y="44.8" font-size="12.2">ALICE, 13</text>
<text x="204.9" y="44.8" font-size="12.2" letter-spacing="0.55">TeV,</text>
<text x="235.2" y="44.8" font-size="13" text-anchor="middle" font-family="Liberation Serif">Λ</text>
<text x="247.6" y="44.8" font-size="12" text-anchor="middle">+</text>
<text x="257" y="44.8" font-size="12" text-anchor="middle">#</text>
<text x="264.9" y="44.8" font-size="13" text-anchor="middle" font-family="Liberation Serif">Λ</text>
<line x1="260.5" y1="35.3" x2="269.2" y2="35.3" stroke="#000" stroke-width="0.9"/>
<text transform="translate(380.1,127.5) rotate(-90)" font-size="9.5" fill="#777">Rivet 4.1.0, ≥ 3.6M events</text>
<text transform="translate(380.3,314.7) rotate(-90)" font-size="9.5" fill="#777">mcplots.cern.ch [arXiv:2401.10621]</text>
<text x="163.7" y="301.5" font-size="8" fill="#aaa">(ALICE_2020_I1797443)</text>
<text transform="translate(15.3,148.3) rotate(-90)" font-size="11.9">1/N × d<tspan font-size="8.4" dy="-5.2">2</tspan><tspan dy="5.2">/(dp</tspan><tspan font-size="8" dy="6.4" dx="0.8">T</tspan><tspan dy="-6.4" dx="0.6"> dy) [1/GeV]</tspan></text>
<text x="40.2" y="62.9" font-size="11" text-anchor="end">1</text>
<text x="32.7" y="109.4" font-size="10.9" text-anchor="end" textLength="10.6" lengthAdjust="spacingAndGlyphs">10</text>
<text x="32.6" y="103.2" font-size="7.4">−1</text>
<text x="32.7" y="154.1" font-size="10.9" text-anchor="end" textLength="10.6" lengthAdjust="spacingAndGlyphs">10</text>
<text x="32.6" y="147.9" font-size="7.4">−2</text>
<text x="32.7" y="198.8" font-size="10.9" text-anchor="end" textLength="10.6" lengthAdjust="spacingAndGlyphs">10</text>
<text x="32.6" y="192.6" font-size="7.4">−3</text>
<text x="32.7" y="243.5" font-size="10.9" text-anchor="end" textLength="10.6" lengthAdjust="spacingAndGlyphs">10</text>
<text x="32.6" y="237.3" font-size="7.4">−4</text>
<text x="32.7" y="288.2" font-size="10.9" text-anchor="end" textLength="10.6" lengthAdjust="spacingAndGlyphs">10</text>
<text x="32.6" y="282" font-size="7.4">−5</text>
<text transform="translate(18.3,426.3) rotate(-90)" font-size="9">Ratio to ALICE</text>
<text x="38.8" y="341.2" font-size="11" text-anchor="end">2</text>
<text x="38.7" y="402.4" font-size="11" text-anchor="end">1</text>
<text x="38.4" y="462.6" font-size="11" text-anchor="end">0.5</text>
<text x="373.7" y="341.2" font-size="11">2</text>
<text x="373.8" y="402.4" font-size="11">1</text>
<text x="373.6" y="462.6" font-size="11">0.5</text>
<text x="46.4" y="489.5" font-size="11" text-anchor="middle">0</text>
<text x="205.8" y="489.2" font-size="11" text-anchor="middle">5</text>
<text x="365.5" y="489" font-size="11" text-anchor="middle">10</text>
<text x="325.2" y="501.6" font-size="12.3">p<tspan font-size="7.8" dy="6.6" dx="0.5">T</tspan><tspan dy="-6.6" dx="0.6"> [GeV]</tspan></text>
</svg></body></html>
